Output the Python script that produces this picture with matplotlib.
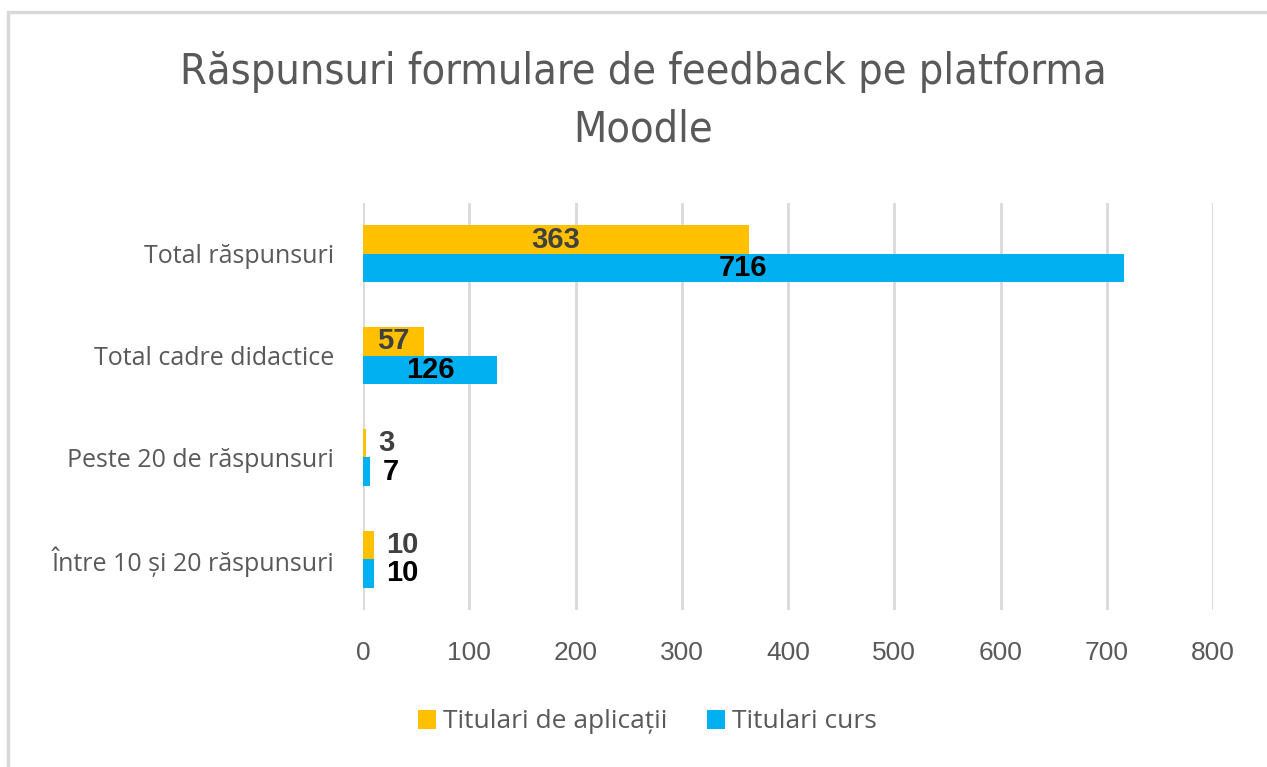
import numpy as np
import matplotlib.pyplot as plt
from matplotlib.patches import Rectangle

categories = ["Total răspunsuri", "Total cadre didactice",
              "Peste 20 de răspunsuri", "Între 10 și 20 răspunsuri"]
aplicatii = [363, 57, 3, 10]
curs = [716, 126, 7, 10]
series_names = ["Titulari de aplicații", "Titulari curs"]

yellow = "#FFC000"
blue = "#00B0F0"
grey = "#595959"

fig = plt.figure(figsize=(12.67, 7.67), dpi=100)
fig.patches.append(Rectangle((8 / 1267, -0.1), 1.2, 1 - 12 / 767 + 0.1,
                             transform=fig.transFigure, fill=False,
                             edgecolor="#D9D9D9", linewidth=2.5))

ax = fig.add_axes([363 / 1267, 1 - 610 / 767, 850 / 1267, 407 / 767])

y = np.arange(len(categories))[::-1]
h = 0.28
b1 = ax.barh(y + h / 2, aplicatii, height=h, color=yellow, label=series_names[0], zorder=3)
b2 = ax.barh(y - h / 2, curs, height=h, color=blue, label=series_names[1], zorder=3)

for bars, vals, col in [(b1, aplicatii, "#404040"), (b2, curs, "black")]:
    for bar, v in zip(bars, vals):
        cy = bar.get_y() + bar.get_height() / 2
        if v > 40:
            ax.text(v / 2, cy, str(v), ha="center", va="center", color=col,
                    fontsize=21, fontweight="bold", family="Liberation Sans", zorder=4)
        else:
            ax.annotate(str(v), (v, cy), xytext=(12, 0), textcoords="offset pixels",
                        ha="left", va="center", color=col, fontsize=21,
                        fontweight="bold", family="Liberation Sans", zorder=4)

ax.set_xlim(0, 800)
ax.set_ylim(-0.5, 3.5)
ax.set_xticks(range(0, 801, 100))
ax.set_yticks(y)
ax.set_yticklabels(categories, family="Open Sans", fontsize=18, color=grey)
for lab in ax.get_xticklabels():
    lab.set_family("Liberation Sans")
    lab.set_fontsize(19)
    lab.set_color(grey)
ax.tick_params(axis="both", length=0)
ax.tick_params(axis="x", pad=22)
ax.tick_params(axis="y", pad=21)
ax.grid(axis="x", color="#D9D9D9", linewidth=2, zorder=0)
for s in ax.spines.values():
    s.set_visible(False)

fig.text(643 / 1267, 1 - 72 / 767, "Răspunsuri formulare de feedback pe platforma",
         ha="center", va="center", fontsize=31, color=grey, family="DejaVu Sans",
         fontstretch="condensed")
fig.text(643 / 1267, 1 - 130 / 767, "Moodle",
         ha="center", va="center", fontsize=31, color=grey, family="DejaVu Sans",
         fontstretch="condensed")

leg = fig.legend(loc="center", bbox_to_anchor=(647 / 1267, 1 - 722 / 767), ncol=2,
                 frameon=False, prop={"family": "Open Sans", "size": 19},
                 handlelength=0.7, handleheight=0.7, handletextpad=0.25,
                 columnspacing=1.5, labelcolor=grey)

fig.savefig("out.png", dpi=100)
